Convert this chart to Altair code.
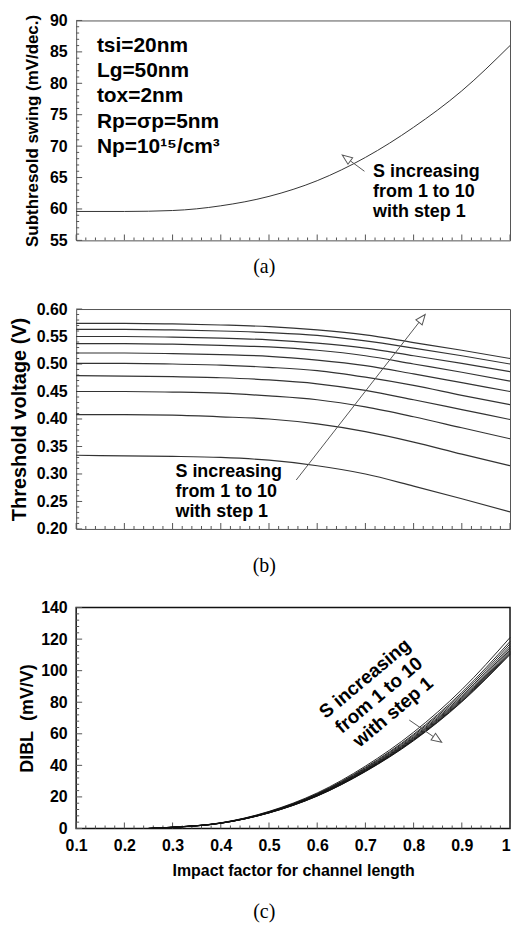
import altair as alt
import pandas as pd

# ---------------- data ----------------
X10 = [0.1, 0.2, 0.3, 0.4, 0.5, 0.6, 0.7, 0.8, 0.9, 1.0]

# (a) subthreshold swing, mV/dec.
A_SWING = [59.6, 59.6, 59.75, 60.5, 62.0, 64.5, 68.2, 73.0, 78.8, 86.0]

# (b) threshold voltage, V, for S = 1 ... 10
B_S1 = [0.334, 0.333, 0.332, 0.330, 0.325, 0.315, 0.300, 0.278, 0.255, 0.231]
B_S2 = [0.408, 0.408, 0.407, 0.404, 0.400, 0.391, 0.377, 0.358, 0.336, 0.315]
B_S3 = [0.450, 0.450, 0.449, 0.447, 0.442, 0.435, 0.422, 0.404, 0.384, 0.364]
B_S4 = [0.479, 0.478, 0.477, 0.475, 0.471, 0.464, 0.452, 0.435, 0.417, 0.399]
B_S5 = [0.501, 0.501, 0.500, 0.498, 0.494, 0.488, 0.476, 0.461, 0.443, 0.426]
B_S6 = [0.520, 0.520, 0.519, 0.517, 0.514, 0.507, 0.497, 0.482, 0.466, 0.450]
B_S7 = [0.537, 0.537, 0.536, 0.534, 0.531, 0.525, 0.515, 0.500, 0.485, 0.469]
B_S8 = [0.550, 0.550, 0.549, 0.547, 0.544, 0.538, 0.529, 0.515, 0.501, 0.486]
B_S9 = [0.563, 0.563, 0.562, 0.560, 0.557, 0.552, 0.542, 0.529, 0.515, 0.500]
B_S10 = [0.574, 0.574, 0.573, 0.571, 0.568, 0.562, 0.553, 0.539, 0.525, 0.510]
B_SERIES = [B_S1, B_S2, B_S3, B_S4, B_S5, B_S6, B_S7, B_S8, B_S9, B_S10]

# (c) DIBL, mV/V, for S = 1 ... 10
C_X = [0.25, 0.3, 0.4, 0.5, 0.6, 0.7, 0.8, 0.9, 1.0]
C_S1 = [0, 0.8, 3.6, 10.8, 22.5, 39.5, 61.0, 88.0, 121.0]
C_S2 = [0, 0.8, 3.5, 10.6, 22.0, 38.7, 59.7, 86.2, 118.5]
C_S3 = [0, 0.8, 3.5, 10.4, 21.8, 38.2, 59.0, 85.1, 117.0]
C_S4 = [0, 0.8, 3.4, 10.3, 21.5, 37.7, 58.2, 84.0, 115.5]
C_S5 = [0, 0.8, 3.4, 10.2, 21.3, 37.3, 57.6, 83.1, 114.3]
C_S6 = [0, 0.7, 3.4, 10.1, 21.1, 37.0, 57.1, 82.4, 113.2]
C_S7 = [0, 0.7, 3.3, 10.0, 20.9, 36.7, 56.6, 81.7, 112.3]
C_S8 = [0, 0.7, 3.3, 9.9, 20.7, 36.4, 56.2, 81.1, 111.5]
C_S9 = [0, 0.7, 3.3, 9.9, 20.6, 36.2, 55.9, 80.6, 110.8]
C_S10 = [0, 0.7, 3.3, 9.8, 20.5, 36.0, 55.6, 80.2, 110.2]
C_SERIES = [C_S1, C_S2, C_S3, C_S4, C_S5, C_S6, C_S7, C_S8, C_S9, C_S10]

# axis tick values
X_MAJOR = [0.1, 0.2, 0.3, 0.4, 0.5, 0.6, 0.7, 0.8, 0.9, 1.0]
X_MINOR = [round(0.1 + 0.02 * i, 2) for i in range(46) if i % 5]
A_YMAJOR = [55, 60, 65, 70, 75, 80, 85, 90]
A_YMINOR = [v for v in range(55, 91) if v % 5]
B_YMAJOR = [0.20, 0.25, 0.30, 0.35, 0.40, 0.45, 0.50, 0.55, 0.60]
B_YMINOR = [round(0.20 + 0.01 * i, 2) for i in range(41) if i % 5]
C_YMAJOR = [0, 20, 40, 60, 80, 100, 120, 140]
C_YMINOR = [v for v in range(0, 141, 4) if v % 20]

# annotations (data coordinates; multi-line text anchored at its first line)
A_PARAMS = ["tsi=20nm", "Lg=50nm", "tox=2nm", "Rp=σp=5nm", "Np=10¹⁵/cm³"]
NOTE = ["S increasing", "from 1 to 10", "with step 1"]
A_PARAMS_POS = (0.143, 85.93)
A_NOTE_POS = (0.716, 65.93)
B_NOTE_POS = (0.306, 0.3033)
C_NOTE_POS = (0.699, 95.0)
A_ARROW = {"x": [0.698, 0.669], "y": [66.0, 67.64], "tip": (0.652, 68.57), "angle": 306}
B_ARROW = {"x": [0.5565, 0.8117], "y": [0.289, 0.5763], "tip": (0.824, 0.590), "angle": 38}
C_ARROW = {"x": [0.791, 0.841], "y": [68.7, 58.2], "tip": (0.858, 54.7), "angle": 124}

SANS = "Liberation Sans"
SERIF = "Liberation Serif"
TICK = "#555555"
ARROW = "#555555"
HEAD = "M0,0L-0.4,1L0.4,1Z"
ORIGIN = 76
W = 436


def y_axis(values, title, title_x, title_size, fmt=None, height=221):
    kw = dict(values=values, title=title, ticks=False, domain=False, grid=False,
              labelFont=SANS, labelFontWeight="bold", labelFontSize=16, labelColor="black",
              labelPadding=9, labelOverlap=False, labelFlush=False,
              titleFont=SANS, titleFontWeight="bold", titleFontSize=title_size, titleColor="black",
              titleX=title_x, titleY=height / 2, titleAngle=270, titleAlign="center",
              titleBaseline="middle")
    if fmt:
        kw["format"] = fmt
    return alt.Axis(**kw)


def tick_layers(encX, encY, ymin, yminor, ymajor):
    xt_major = pd.DataFrame({"x": X_MAJOR, "y": [ymin] * len(X_MAJOR)})
    xt_minor = pd.DataFrame({"x": X_MINOR, "y": [ymin] * len(X_MINOR)})
    yt_major = pd.DataFrame({"x": [0.1] * len(ymajor), "y": ymajor})
    yt_minor = pd.DataFrame({"x": [0.1] * len(yminor), "y": yminor})
    out = []
    for df, L in ((xt_major, 6), (xt_minor, 3)):
        out.append(alt.Chart(df).mark_tick(orient="vertical", size=L, thickness=1, yOffset=-L / 2,
                                           color=TICK, opacity=1).encode(x=encX, y=encY))
    for df, L in ((yt_major, 6), (yt_minor, 3)):
        out.append(alt.Chart(df).mark_tick(orient="horizontal", size=L, thickness=1, xOffset=L / 2,
                                           color=TICK, opacity=1).encode(x=encX, y=encY))
    return out


def arrow_layers(arr, encX, encY):
    line_df = pd.DataFrame({"x": arr["x"], "y": arr["y"]})
    tip_df = pd.DataFrame({"x": [arr["tip"][0]], "y": [arr["tip"][1]]})
    line = alt.Chart(line_df).mark_line(color=ARROW, strokeWidth=1).encode(x=encX, y=encY)
    head = alt.Chart(tip_df).mark_point(shape=HEAD, size=400, filled=False, stroke=ARROW,
                                        strokeWidth=1, angle=arr["angle"], opacity=1).encode(x=encX, y=encY)
    return [line, head]


def note_layer(text, pos, encX, encY, size, lh, align="left", angle=None):
    kw = dict(text=text, align=align, baseline="middle", font=SANS, fontSize=size,
              fontWeight="bold", color="black", lineHeight=lh)
    if angle is not None:
        kw["angle"] = angle
    return (alt.Chart(pd.DataFrame({"x": [pos[0]], "y": [pos[1]]}))
            .mark_text(**kw).encode(x=encX, y=encY))


def caption(text, offset):
    return alt.TitleParams(text, orient="bottom", anchor="middle", frame="group",
                           dx=265 - (ORIGIN + W / 2), offset=offset, font=SERIF, fontSize=20,
                           fontWeight="normal", color="black")


XSCALE = alt.Scale(domain=[0.1, 1.0], nice=False, zero=False)

# ---------------- panel (a) ----------------
HA = 221
xA = alt.X("x:Q", scale=XSCALE, axis=None)
yA = alt.Y("y:Q", scale=alt.Scale(domain=[55, 90], nice=False, zero=False),
           axis=y_axis(A_YMAJOR, "Subthresold swing (mV/dec.)", 32 - ORIGIN, 17, height=HA))
df_a = pd.DataFrame({"x": X10, "y": A_SWING})
a_layers = tick_layers(xA, yA, 55, A_YMINOR, A_YMAJOR)
a_layers.append(alt.Chart(df_a).mark_line(color="#333333", strokeWidth=1, interpolate="monotone")
                .encode(x=xA, y=yA))
a_layers += arrow_layers(A_ARROW, xA, yA)
a_layers.append(note_layer(NOTE, A_NOTE_POS, xA, yA, 18, 20.5))
a_layers.append(note_layer(A_PARAMS, A_PARAMS_POS, xA, yA, 21, 25.3))
panel_a = alt.layer(*a_layers).properties(
    width=W, height=HA, title=caption("(a)", 9.25),
    view=alt.ViewBackground(stroke="#555555", strokeWidth=1))

# ---------------- panel (b) ----------------
HB = 221
xB = alt.X("x:Q", scale=XSCALE, axis=None)
yB = alt.Y("y:Q", scale=alt.Scale(domain=[0.2, 0.6], nice=False, zero=False),
           axis=y_axis(B_YMAJOR, "Threshold voltage (V)", 19 - ORIGIN, 20, fmt=".2f", height=HB))
rows = []
for s, vals in enumerate(B_SERIES, start=1):
    for xv, yv in zip(X10, vals):
        rows.append({"x": xv, "y": yv, "s": s})
df_b = pd.DataFrame(rows)
b_layers = tick_layers(xB, yB, 0.2, B_YMINOR, B_YMAJOR)
b_layers.append(alt.Chart(df_b).mark_line(color="#333333", strokeWidth=1.2, interpolate="monotone")
                .encode(x=xB, y=yB, detail="s:N"))
b_layers += arrow_layers(B_ARROW, xB, yB)
b_layers.append(note_layer(NOTE, B_NOTE_POS, xB, yB, 18, 20.2))
panel_b = alt.layer(*b_layers).properties(
    width=W, height=HB, title=caption("(b)", 19),
    view=alt.ViewBackground(stroke="#555555", strokeWidth=1))

# ---------------- panel (c) ----------------
HC = 222
xC = alt.X("x:Q", scale=XSCALE,
           axis=alt.Axis(values=X_MAJOR, format="~g", title="Impact factor for channel length",
                         ticks=False, domain=False, grid=False, labelFont=SANS, labelFontWeight="bold",
                         labelFontSize=16, labelColor="black", labelPadding=9.5, labelOverlap=False,
                         labelFlush=False,
                         labelAlign=alt.expr("datum.value >= 0.99 ? 'right' : 'center'"),
                         titleFont=SANS, titleFontWeight="bold", titleFontSize=16,
                         titleColor="black", titlePadding=9))
yC = alt.Y("y:Q", scale=alt.Scale(domain=[0, 140], nice=False, zero=False),
           axis=y_axis(C_YMAJOR, "DIBL\u00a0\u00a0(mV/V)", 27 - ORIGIN, 18, height=HC))
rows = []
for s, vals in enumerate(C_SERIES, start=1):
    for xv, yv in zip(C_X, vals):
        rows.append({"x": xv, "y": yv, "s": s})
df_c = pd.DataFrame(rows)
c_layers = tick_layers(xC, yC, 0, C_YMINOR, C_YMAJOR)
c_layers.append(alt.Chart(df_c).mark_line(color="#111111", strokeWidth=0.9, interpolate="monotone")
                .encode(x=xC, y=yC, detail="s:N"))
c_layers += arrow_layers(C_ARROW, xC, yC)
c_layers.append(note_layer(NOTE, C_NOTE_POS, xC, yC, 19, 22, align="center", angle=320))
panel_c = alt.layer(*c_layers).properties(
    width=W, height=HC, title=caption("(c)", 23.5),
    view=alt.ViewBackground(stroke="#111111", strokeWidth=1.5))

chart = alt.vconcat(panel_a, panel_b, panel_c, spacing=22).properties(
    padding={"left": 0.5, "top": 1.25, "right": 0, "bottom": 0}
).configure(background="white")

chart.save("out.html", embed_options={"renderer": "svg", "actions": False})
